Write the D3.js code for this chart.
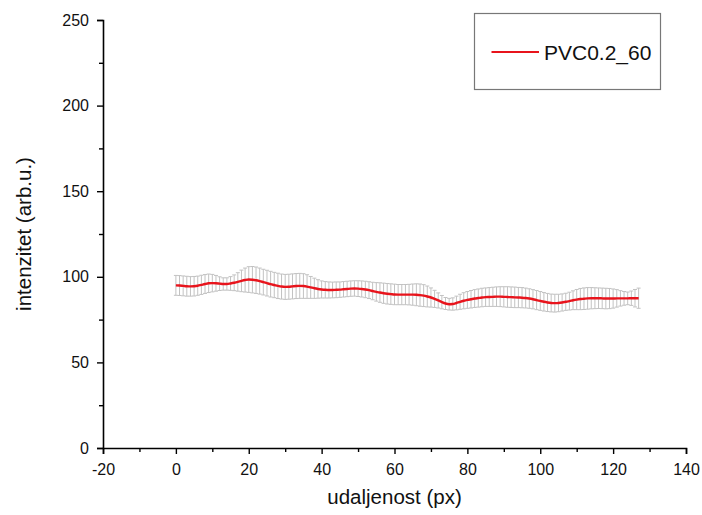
<!DOCTYPE html>
<html>
<head>
<meta charset="utf-8">
<script src="https://cdn.jsdelivr.net/npm/d3@7"></script>
<style>
  html, body { margin: 0; padding: 0; background: #fff; }
  svg { display: block; font-family: "Liberation Sans", Arial, sans-serif; }
</style>
</head>
<body>
<svg id="chart" width="702" height="515"></svg>
<script>
// Intensity profile along the sample, with standard deviation at each pixel
const seriesName = "PVC0.2_60";
const meanIntensity = [
  95.0, 94.9, 94.7, 94.5, 94.4, 94.5, 94.8, 95.3, 95.8, 96.2,
  96.3, 96.2, 96.0, 95.8, 95.8, 96.1, 96.5, 97.0, 97.6, 98.1,
  98.4, 98.3, 98.0, 97.5, 96.9, 96.3, 95.7, 95.2, 94.7, 94.3,
  94.1, 94.2, 94.4, 94.6, 94.7, 94.6, 94.3, 93.8, 93.3, 92.9,
  92.6, 92.4, 92.3, 92.3, 92.4, 92.5, 92.7, 92.9, 93.1, 93.2,
  93.1, 92.9, 92.6, 92.2, 91.7, 91.2, 90.8, 90.4, 90.1, 89.9,
  89.7, 89.6, 89.6, 89.6, 89.6, 89.6, 89.5, 89.3, 89.0, 88.5,
  87.9, 87.1, 86.2, 85.2, 84.4, 84.0, 84.1, 84.7, 85.4, 86.0,
  86.5, 86.9, 87.3, 87.6, 87.9, 88.1, 88.2, 88.3, 88.4, 88.4,
  88.3, 88.2, 88.1, 88.0, 87.9, 87.8, 87.6, 87.3, 86.9, 86.4,
  85.9, 85.4, 85.0, 84.7, 84.6, 84.7, 85.0, 85.4, 85.8, 86.3,
  86.7, 87.0, 87.2, 87.4, 87.5, 87.5, 87.5, 87.4, 87.3, 87.3,
  87.3, 87.4, 87.4, 87.4, 87.4, 87.5, 87.5, 87.5
];
const stdDev = [
  5.8, 5.8, 5.8, 5.8, 5.7, 5.7, 5.6, 5.6, 5.5, 5.4,
  5.1, 4.6, 4.0, 3.6, 3.6, 4.0, 4.6, 5.4, 6.3, 7.0,
  7.5, 7.7, 7.7, 7.6, 7.5, 7.5, 7.5, 7.4, 7.4, 7.3,
  7.3, 7.3, 7.3, 7.3, 7.3, 7.2, 6.9, 6.4, 5.9, 5.4,
  5.0, 4.8, 4.7, 4.6, 4.6, 4.5, 4.5, 4.5, 4.5, 4.5,
  4.6, 4.7, 4.8, 4.9, 5.1, 5.4, 5.7, 5.9, 6.0, 6.0,
  6.0, 5.9, 5.9, 5.9, 6.0, 6.2, 6.4, 6.5, 6.4, 6.1,
  5.6, 5.0, 4.4, 3.9, 3.5, 3.4, 3.6, 4.0, 4.4, 4.7,
  4.9, 5.1, 5.2, 5.3, 5.4, 5.4, 5.5, 5.6, 5.7, 5.8,
  5.9, 6.0, 6.0, 6.0, 5.9, 5.9, 5.8, 5.7, 5.6, 5.6,
  5.5, 5.4, 5.3, 5.2, 5.2, 5.1, 5.0, 5.0, 5.2, 5.5,
  5.9, 6.2, 6.3, 6.3, 6.2, 6.1, 6.0, 6.0, 6.0, 5.9,
  5.6, 5.1, 4.5, 4.0, 3.7, 4.2, 5.1, 5.9
];
const xTicks = [-20, 0, 20, 40, 60, 80, 100, 120, 140];
const yTicks = [0, 50, 100, 150, 200, 250];
const xTitle = "udaljenost (px)";
const yTitle = "intenzitet (arb.u.)";

const data = meanIntensity.map((m, i) => ({ x: i, y: m, e: stdDev[i] }));

const svg = d3.select("#chart");
const margin = { left: 103, right: 16, top: 20, bottom: 67 };
const W = 702, H = 515;

const x = d3.scaleLinear().domain([-20, 140]).range([margin.left, W - margin.right]);
const y = d3.scaleLinear().domain([0, 250]).range([H - margin.bottom, margin.top]);

// Error bars with small caps
const errG = svg.append("g").attr("stroke", "#c2c2c2").attr("stroke-width", 1).attr("fill", "none");
errG.selectAll("line.bar").data(data).join("line")
  .attr("class", "bar")
  .attr("x1", d => x(d.x)).attr("x2", d => x(d.x))
  .attr("y1", d => y(d.y - d.e)).attr("y2", d => y(d.y + d.e));
const capHalf = 2;
errG.selectAll("line.capT").data(data).join("line")
  .attr("class", "capT")
  .attr("x1", d => x(d.x) - capHalf).attr("x2", d => x(d.x) + capHalf)
  .attr("y1", d => y(d.y + d.e)).attr("y2", d => y(d.y + d.e));
errG.selectAll("line.capB").data(data).join("line")
  .attr("class", "capB")
  .attr("x1", d => x(d.x) - capHalf).attr("x2", d => x(d.x) + capHalf)
  .attr("y1", d => y(d.y - d.e)).attr("y2", d => y(d.y - d.e));

// Mean profile
svg.append("path")
  .datum(data)
  .attr("fill", "none")
  .attr("stroke", "#e8141c")
  .attr("stroke-width", 2.4)
  .attr("stroke-linejoin", "round")
  .attr("d", d3.line().x(d => x(d.x)).y(d => y(d.y)).curve(d3.curveMonotoneX));

// Axes
const fmt = d => String(d);
const xAxis = svg.append("g")
  .attr("transform", `translate(0,${y(0)})`)
  .call(d3.axisBottom(x).tickValues(xTicks).tickSize(6).tickPadding(10).tickFormat(fmt));
const xMinor = svg.append("g")
  .attr("transform", `translate(0,${y(0)})`)
  .call(d3.axisBottom(x).tickValues(d3.range(-10, 140, 20)).tickSize(4).tickFormat(""));
const yAxis = svg.append("g")
  .attr("transform", `translate(${x(-20)},0)`)
  .call(d3.axisLeft(y).tickValues(yTicks).tickSize(6).tickPadding(8).tickFormat(fmt));
const yMinor = svg.append("g")
  .attr("transform", `translate(${x(-20)},0)`)
  .call(d3.axisLeft(y).tickValues(d3.range(25, 250, 50)).tickSize(4).tickFormat(""));

[xAxis, xMinor, yAxis, yMinor].forEach(g => {
  g.selectAll(".domain").attr("stroke", "#000").attr("stroke-width", 1.6);
  g.selectAll(".tick line").attr("stroke", "#000").attr("stroke-width", 1.4);
  g.selectAll(".tick text").attr("fill", "#111").style("font-size", "16px")
    .style("font-family", "'Liberation Sans', Arial, sans-serif");
});
xMinor.select(".domain").remove();
yMinor.select(".domain").remove();

// Axis titles
svg.append("text")
  .attr("x", (x(-20) + x(140)) / 2)
  .attr("y", 504)
  .attr("text-anchor", "middle")
  .style("font-size", "20.5px")
  .attr("fill", "#111")
  .text(xTitle);
svg.append("text")
  .attr("transform", `translate(31,${(y(0) + y(250)) / 2}) rotate(-90)`)
  .attr("text-anchor", "middle")
  .style("font-size", "20.5px")
  .attr("fill", "#111")
  .text(yTitle);

// Legend
const lg = svg.append("g");
lg.append("rect")
  .attr("x", 474.5).attr("y", 13.5).attr("width", 186).attr("height", 76)
  .attr("fill", "#fff").attr("stroke", "#777").attr("stroke-width", 1.2);
lg.append("line")
  .attr("x1", 491.5).attr("x2", 539).attr("y1", 52).attr("y2", 52)
  .attr("stroke", "#e8141c").attr("stroke-width", 2.2);
lg.append("text")
  .attr("x", 544).attr("y", 60)
  .style("font-size", "21px")
  .attr("fill", "#111")
  .text(seriesName);
</script>
</body>
</html>
